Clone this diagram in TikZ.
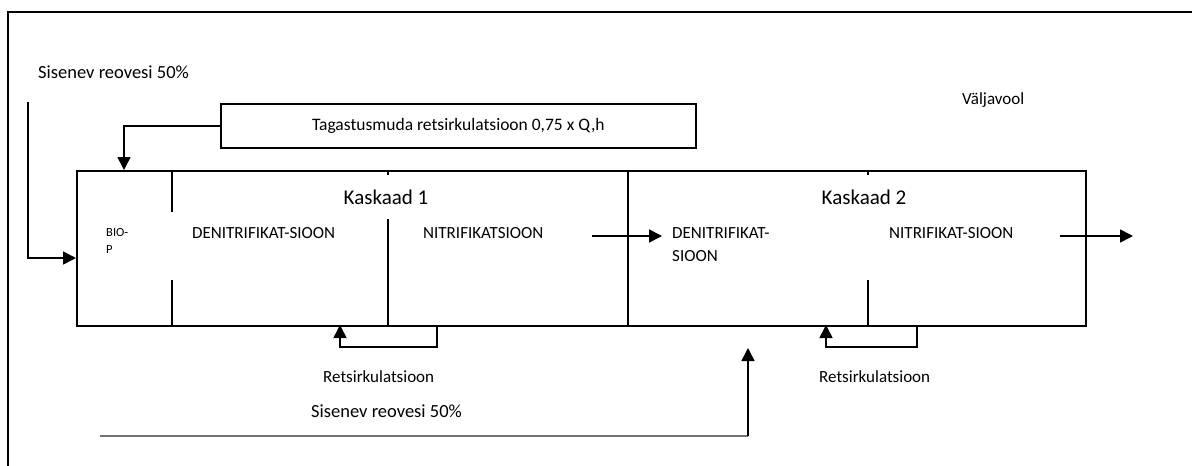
\documentclass[tikz,border=0pt]{standalone}
\usepackage{fontspec}
\setmainfont{Carlito}
\usetikzlibrary{positioning,arrows.meta,calc}
\tikzset{
lbl/.style={
inner sep=0pt,
anchor=west,
font=\fontsize{17}{23}\selectfont
},
head/.style={
inner sep=0pt,
font=\fontsize{21}{24}\selectfont
},
arrow/.style={
-{Triangle[length=13pt,width=13pt]},
line width=1.6pt
},
wall/.style={
line width=1.6pt
}
}

\begin{document}
\begin{tikzpicture}[x=1pt,y=-1pt]
\useasboundingbox (0,0) rectangle (1192,466);
\draw[wall] (8,466) -- (8,12) -- (1192,12);

% tank and return sludge box
\node[draw,wall,anchor=north west,minimum width=1009pt,minimum height=155pt](tank) at (76,170){};
\node[draw,wall,anchor=north west,minimum width=475pt,minimum height=44pt,font=\fontsize{17.5}{20}\selectfont](tag) at (220,103){Tagastusmuda retsirkulatsioon 0,75 x Q,h};

% partitions
\draw[wall] (172,170) -- (172,212);
\draw[wall] (172,280) -- (172,325);
\draw[wall] (388,170) -- (388,175);
\draw[wall] (388,219) -- (388,325);
\draw[wall] (628,170) -- (628,325);
\draw[wall] (868,170) -- (868,175);
\draw[wall] (868,280) -- (868,325);

% texts
\node[lbl,font=\fontsize{18.5}{20}\selectfont](in1txt) at (38,72){Sisenev reovesi 50\%};
\node[lbl](out) at (962,100){Väljavool};
\node[head](k1) at (386,197){Kaskaad 1};
\node[head](k2) at (864,197){Kaskaad 2};
\node[lbl,align=left,font=\fontsize{12.5}{17}\selectfont](bio) at (106,241){BIO-\\P};
\node[lbl](den1) at (192,233){DENITRIFIKAT-SIOON};
\node[lbl](nit1) at (423,233){NITRIFIKATSIOON};
\node[lbl,align=left](den2) at (672,245){DENITRIFIKAT-\\SIOON};
\node[lbl](nit2) at (889,233){NITRIFIKAT-SIOON};
\node[lbl](rec1) at (323,377){Retsirkulatsioon};
\node[lbl](rec2) at (819,377){Retsirkulatsioon};
\node[lbl,font=\fontsize{18.5}{20}\selectfont](in2txt) at (311,411){Sisenev reovesi 50\%};

% connectors
\coordinate(in1) at (28,102);
\coordinate(in1end) at (76,258);
\coordinate(ras) at (124,170);
\coordinate(mid1) at (592,236);
\coordinate(mid2) at (662,236);
\coordinate(eff1) at (1060,236);
\coordinate(eff2) at (1133,236);
\coordinate(r1a) at (437,325);
\coordinate(r1b) at (340,325);
\coordinate(r2a) at (917,325);
\coordinate(r2b) at (826,325);
\coordinate(in2) at (100,436);
\coordinate(in2c) at (748,436);
\coordinate(in2end) at (748,348);

\draw[arrow](in1) |- (in1end);
\draw[arrow](tag.west) -| (ras);
\draw[arrow](mid1) -- (mid2);
\draw[arrow](eff1) -- (eff2);
\draw[arrow](r1a) -- ++(0,22) -| (r1b);
\draw[arrow](r2a) -- ++(0,22) -| (r2b);
\draw[wall,black!55](in2) -- (in2c);
\draw[arrow](in2c) -- (in2end);
\end{tikzpicture}
\end{document}
